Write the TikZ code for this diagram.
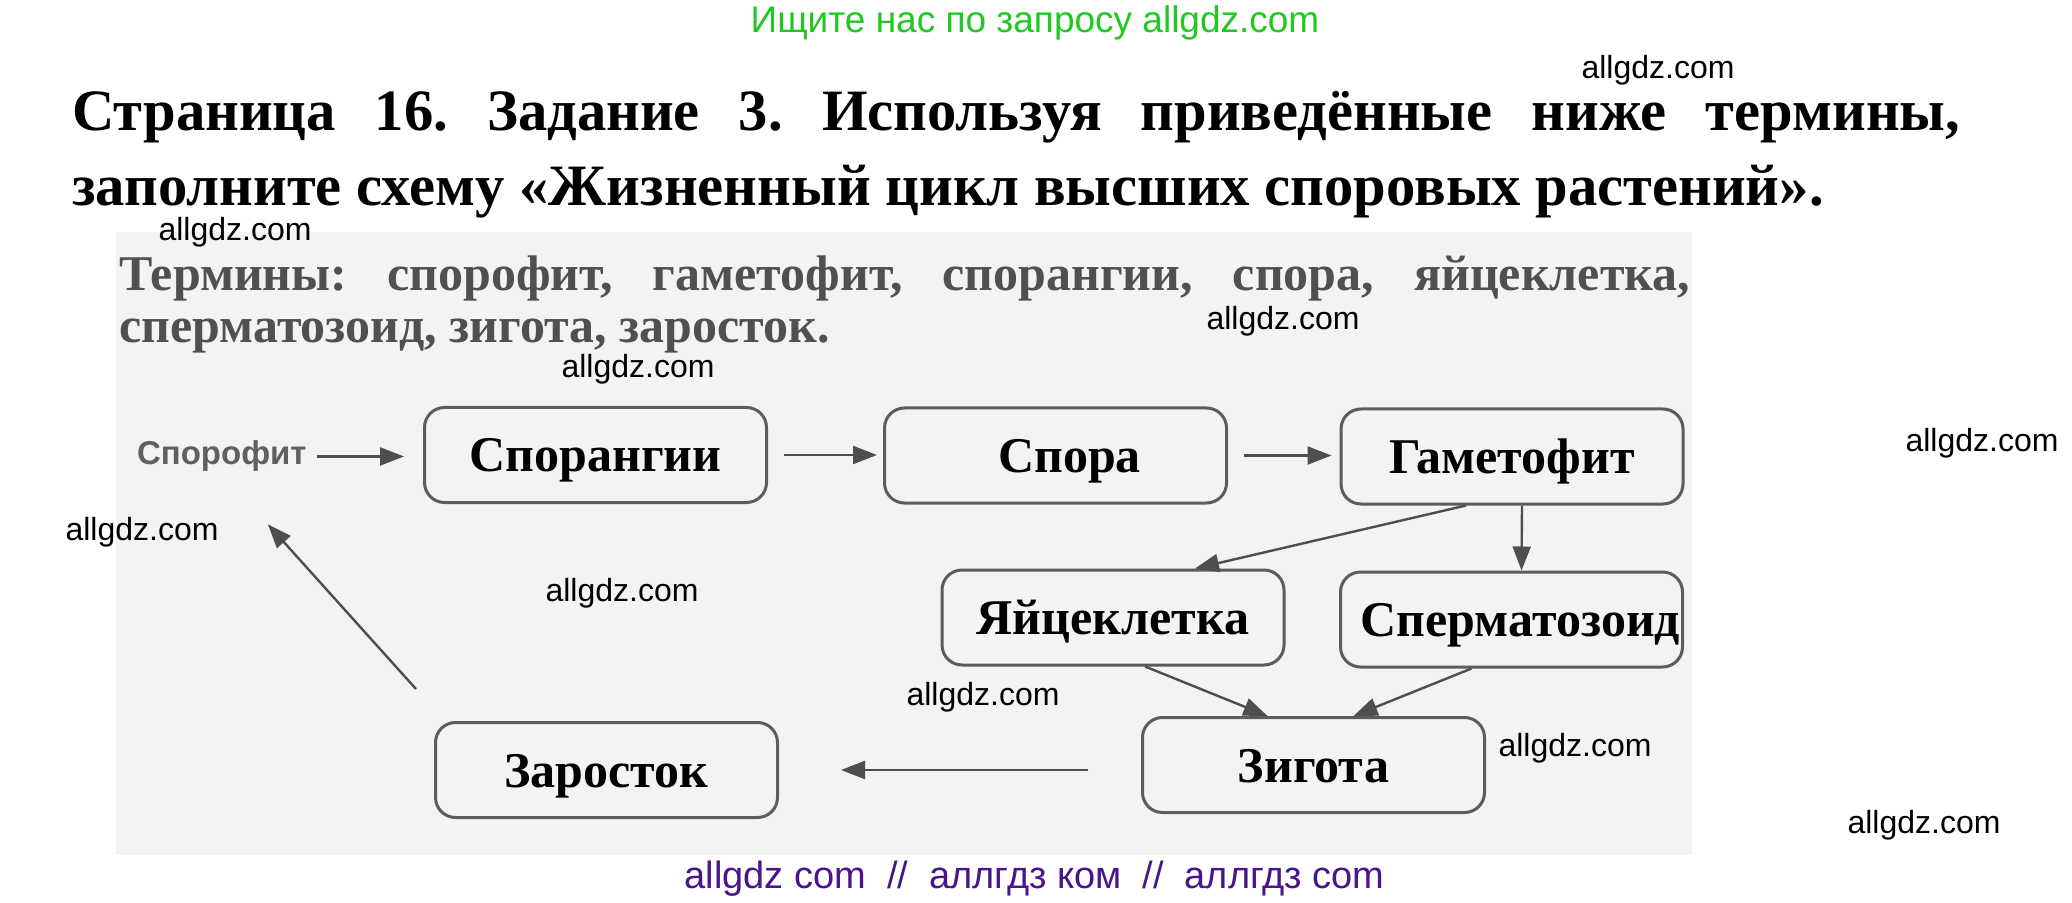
\documentclass[tikz,border=0pt]{standalone}
\usepackage{fontspec}
\setmainfont{Liberation Serif}
\newfontfamily\wmfont{Liberation Sans}
\usetikzlibrary{arrows.meta}
\frenchspacing
\definecolor{bggray}{HTML}{F3F3F3}
\definecolor{boxgray}{HTML}{5C5C5C}
\definecolor{arrgray}{HTML}{4E4E4E}
\definecolor{termgray}{HTML}{505050}
\definecolor{wmgreen}{HTML}{22C822}
\definecolor{wmpurple}{HTML}{4A148C}
\tikzset{
  stagebox/.style={draw=boxgray, line width=1.5pt, rounded corners=10pt,
    minimum width=171pt, minimum height=47.5pt, inner sep=0pt,
    font=\fontsize{25pt}{30pt}\selectfont\bfseries, text height=19pt, text depth=2pt},
  arr/.style={draw=arrgray, line width=1.2pt, -{Triangle[length=12pt,width=9pt]}},
  wm/.style={font=\wmfont\fontsize{16pt}{19pt}\selectfont, inner sep=0pt, text=black},
  titletext/.style={anchor=base west, inner sep=0pt, font=\fontsize{29.3pt}{35pt}\selectfont\bfseries},
  termtext/.style={anchor=base west, inner sep=0pt, text=termgray, font=\fontsize{25pt}{30pt}\selectfont\bfseries}
}
\begin{document}
\begin{tikzpicture}[x=0.5pt,y=-0.5pt]
\useasboundingbox (0,0) rectangle (2072,903);
\fill[white] (0,0) rectangle (2072,903);
\fill[bggray] (116,232) rectangle (1692,855);

% header / footer
\node[anchor=base, inner sep=0pt, text=wmgreen, font=\wmfont\fontsize{18.5pt}{21pt}\selectfont] (head) at (1035,33) {Ищите нас по запросу allgdz.com};
\node[anchor=base, inner sep=0pt, text=wmpurple, font=\wmfont\fontsize{19pt}{22pt}\selectfont] (foot) at (1034.5,888) {allgdz com\ \ //\ \ аллгдз ком\ \ //\ \ аллгдз com};

% title
\node[titletext] (t1) at (72,131) {\makebox[944pt][s]{Страница 16. Задание 3. Используя приведённые ниже термины,}};
\node[titletext] (t2) at (72,206) {заполните схему «Жизненный цикл высших споровых растений».};

% terms
\node[termtext] (terms1) at (119,291) {\makebox[785.5pt][s]{Термины: спорофит, гаметофит, спорангии, спора, яйцеклетка,}};
\node[termtext] (terms2) at (119,343) {сперматозоид, зигота, заросток.};

% diagram
\node[anchor=base east, inner sep=0pt, text=arrgray!90, font=\wmfont\fontsize{16.5pt}{19pt}\selectfont\bfseries] (spf) at (307,465) {Спорофит};
\node[stagebox] (spor) at (595.5,455) {Спорангии};
\node[stagebox] (spora) at (1055.5,455.5) {\hspace*{14pt}Спора};
\node[stagebox] (gam) at (1512,456.5) {Гаметофит};
\node[stagebox] (egg) at (1113,617.5) {Яйцеклетка};
\node[stagebox] (sperm) at (1511.5,619.5) {\hspace*{9pt}Сперматозоид};
\node[stagebox] (zyg) at (1313.5,765) {Зигота};
\node[stagebox] (zar) at (606.5,770) {Заросток};

\draw[arr, shorten <=5pt, shorten >=9.5pt] (spf.east) -- (spf.east -| spor.west);
\draw[arr, shorten <=8pt, shorten >=3pt] (spor.east) -- (spor.east -| spora.west);
\draw[arr, shorten <=8pt, shorten >=4pt] (spora.east) -- (spora.east -| gam.west);
\draw[arr] ([xshift=-23pt]gam.south) -- ([xshift=41pt]egg.north);
\draw[arr] ([xshift=5pt]gam.south) -- ([xshift=5pt]sperm.north);
\draw[arr] ([xshift=16pt]egg.south) -- ([xshift=-23pt]zyg.north);
\draw[arr] ([xshift=-20pt]sperm.south) -- ([xshift=20pt]zyg.north);
\draw[arr, shorten <=26.5pt, shorten >=31pt] ([yshift=-2.5pt]zyg.west) -- (zar.east);
\draw[arr] ([xshift=-9pt,yshift=16pt]zar.north west) -- ([xshift=23pt,yshift=-26pt]spf.south);

% watermarks
\node[wm] (wm1) at (1658,70) {allgdz.com};
\node[wm] (wm2) at (235,232) {allgdz.com};
\node[wm] (wm3) at (1283,321) {allgdz.com};
\node[wm] (wm4) at (638,369) {allgdz.com};
\node[wm] (wm5) at (1982,443) {allgdz.com};
\node[wm] (wm6) at (142,532) {allgdz.com};
\node[wm] (wm7) at (622,593) {allgdz.com};
\node[wm] (wm8) at (983,697) {allgdz.com};
\node[wm] (wm9) at (1575,748) {allgdz.com};
\node[wm] (wm10) at (1924,825) {allgdz.com};
\end{tikzpicture}
\end{document}
